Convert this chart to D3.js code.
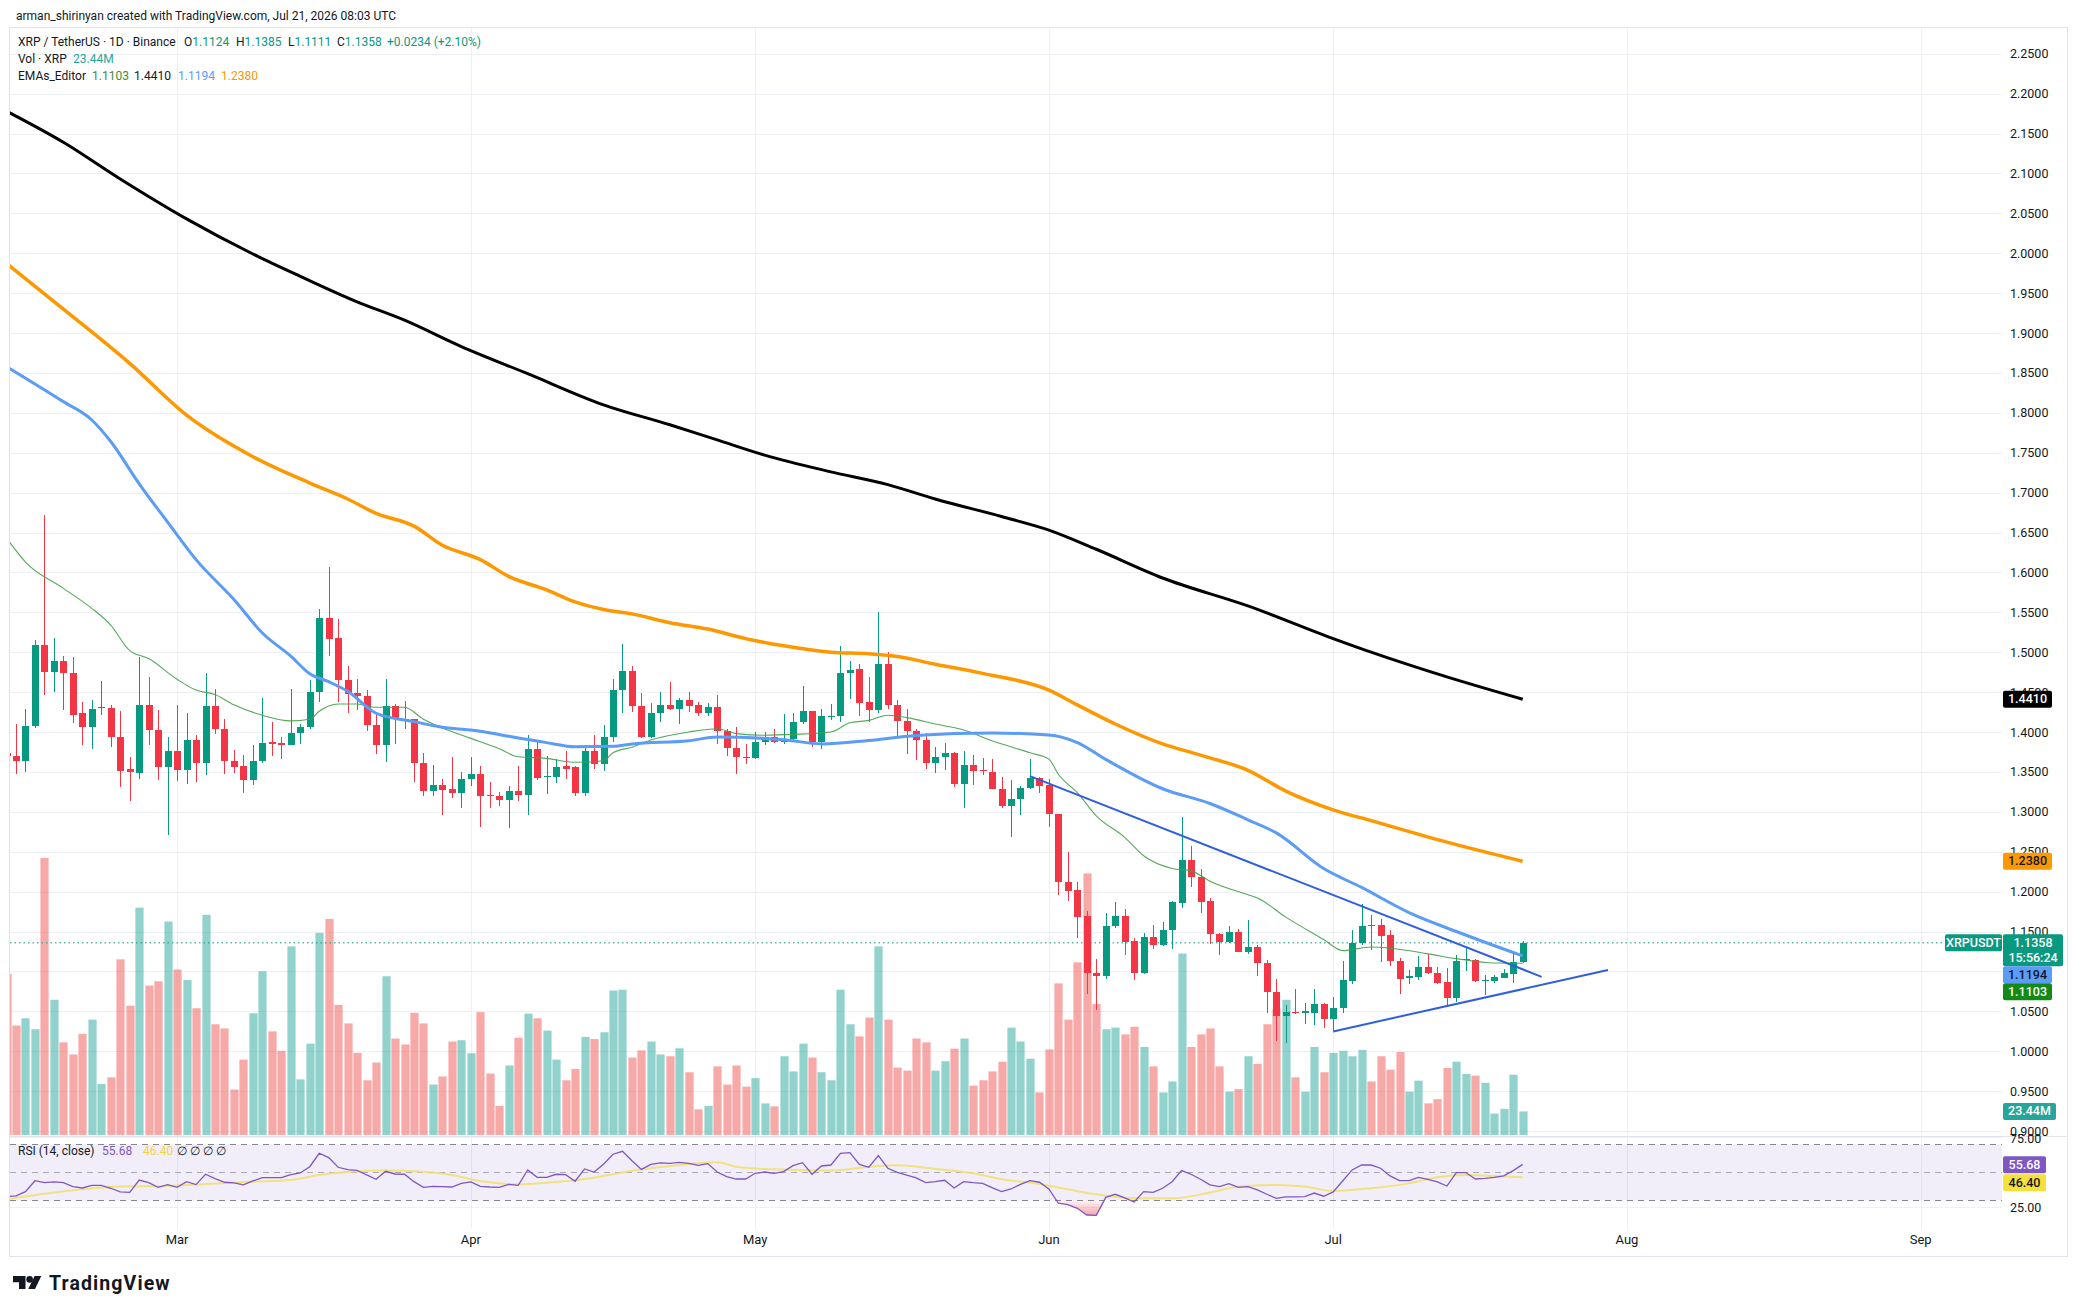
<!DOCTYPE html>
<html><head><meta charset="utf-8">
<script src="https://cdn.jsdelivr.net/npm/d3@7"></script>
<style>
html,body{margin:0;padding:0;background:#fff;}
svg{display:block;font-family:Roboto,"Noto Sans",sans-serif;}
</style></head><body>
<svg id="chart" width="2078" height="1314"></svg>
<script>
// ---------------- DATA (day index 0 = 2026-02-11) ----------------
const opens = [1.3740,1.3700,1.3642,1.4069,1.5095,1.4747,1.4884,1.4737,1.4232,1.4063,1.4300,1.4305,1.3937,1.3537,1.3490,1.4342,1.4026,1.3558,1.3763,1.3526,1.3905,1.3611,1.4321,1.4042,1.3642,1.3569,1.3400,1.3632,1.3869,1.3858,1.3842,1.3990,1.4063,1.4495,1.5432,1.5179,1.4653,1.4484,1.4453,1.4090,1.3842,1.4332,1.4169,1.4158,1.3616,1.3258,1.3337,1.3284,1.3237,1.3411,1.3479,1.3211,1.3195,1.3147,1.3263,1.3211,1.3790,1.3432,1.3437,1.3569,1.3558,1.3237,1.3758,1.3605,1.3932,1.4526,1.4769,1.4326,1.3937,1.4237,1.4337,1.4284,1.4395,1.4337,1.4237,1.4316,1.4011,1.3800,1.3690,1.3674,1.3869,1.3937,1.3874,1.3916,1.4126,1.4258,1.3869,1.4190,1.4200,1.4737,1.4784,1.4379,1.4274,1.4858,1.4337,1.4137,1.4016,1.3905,1.3611,1.3684,1.3737,1.3347,1.3590,1.3526,1.3505,1.3290,1.3074,1.3163,1.3300,1.3421,1.3332,1.2974,1.2126,1.2016,1.1695,1.0974,1.0937,1.1563,1.1695,1.1379,1.0974,1.1432,1.1326,1.1516,1.1863,1.2395,1.2179,1.1879,1.1463,1.1369,1.1500,1.1242,1.1305,1.1105,1.0747,1.0437,1.0495,1.0484,1.0484,1.0595,1.0405,1.0537,1.0879,1.1353,1.1579,1.1579,1.1458,1.1126,1.0916,1.0926,1.1053,1.0974,1.0869,1.0669,1.1137,1.1147,1.0879,1.0874,1.0916,1.0969,1.1124];
const highs = [1.3900,1.4095,1.4290,1.5147,1.6721,1.5184,1.4958,1.4937,1.4379,1.4395,1.4642,1.4337,1.4263,1.3684,1.4937,1.4695,1.4274,1.3937,1.4337,1.4232,1.3958,1.4737,1.4537,1.4158,1.3779,1.3716,1.3842,1.4432,1.4126,1.3937,1.4537,1.4095,1.4653,1.5537,1.6069,1.5421,1.4821,1.4663,1.4526,1.4253,1.4669,1.4347,1.4390,1.4169,1.3737,1.3590,1.3411,1.3684,1.3505,1.3690,1.3579,1.3369,1.3242,1.3326,1.3579,1.3963,1.3895,1.3695,1.3663,1.3758,1.3579,1.3832,1.3958,1.4084,1.4669,1.5105,1.4832,1.4484,1.4369,1.4505,1.4632,1.4426,1.4505,1.4379,1.4369,1.4463,1.4032,1.4063,1.3853,1.4000,1.4000,1.4037,1.4221,1.4232,1.4579,1.4269,1.4284,1.4353,1.5079,1.4890,1.4858,1.4695,1.5500,1.5000,1.4405,1.4290,1.4032,1.3984,1.3816,1.3863,1.3747,1.3758,1.3711,1.3669,1.3658,1.3437,1.3395,1.3326,1.3663,1.3442,1.3416,1.2974,1.2490,1.2116,1.1763,1.1158,1.1737,1.1869,1.1779,1.1421,1.1484,1.1579,1.1621,1.1884,1.2937,1.2569,1.2284,1.1926,1.1484,1.1568,1.1537,1.1642,1.1326,1.1142,1.0905,1.0579,1.0779,1.0605,1.0779,1.0605,1.0674,1.1132,1.1516,1.1842,1.1705,1.1653,1.1516,1.1169,1.1021,1.1190,1.1221,1.1053,1.1042,1.1211,1.1305,1.1158,1.0958,1.0958,1.1026,1.1237,1.1385];
const lows = [1.3560,1.3474,1.3500,1.4053,1.4463,1.4500,1.4274,1.4116,1.3832,1.3790,1.4211,1.3811,1.3305,1.3132,1.3411,1.3842,1.3400,1.2711,1.3390,1.3347,1.3379,1.3463,1.3979,1.3474,1.3484,1.3232,1.3337,1.3611,1.3705,1.3663,1.3832,1.3853,1.4042,1.4379,1.4958,1.4379,1.4232,1.4274,1.4011,1.3726,1.3626,1.3847,1.4042,1.3369,1.3200,1.3200,1.2958,1.3169,1.3042,1.3326,1.2805,1.3042,1.3074,1.2800,1.3137,1.2963,1.3400,1.3226,1.3358,1.3411,1.3200,1.3200,1.3537,1.3511,1.3874,1.4232,1.4253,1.3926,1.3926,1.4126,1.4274,1.4100,1.4247,1.4200,1.4195,1.3853,1.3695,1.3474,1.3600,1.3663,1.3832,1.3863,1.3853,1.3905,1.4095,1.3811,1.3790,1.4147,1.4126,1.4411,1.4205,1.4126,1.4232,1.4284,1.3947,1.3726,1.3653,1.3537,1.3490,1.3526,1.3316,1.3042,1.3337,1.3463,1.3290,1.3053,1.2684,1.2963,1.3290,1.3232,1.2811,1.1958,1.1879,1.1421,1.0711,1.0516,1.0905,1.1547,1.1200,1.0895,1.0969,1.1284,1.1316,1.1284,1.1790,1.2063,1.1726,1.1342,1.1200,1.1358,1.1242,1.1221,1.0937,1.0474,1.0132,1.0105,1.0463,1.0342,1.0332,1.0290,1.0253,1.0474,1.0842,1.1337,1.1274,1.1116,1.1063,1.0716,1.0842,1.0895,1.0969,1.0842,1.0553,1.0616,1.1000,1.0863,1.0705,1.0853,1.0916,1.0853,1.1111];
const closes = [1.3700,1.3642,1.4079,1.5095,1.4747,1.4884,1.4737,1.4211,1.4063,1.4290,1.4311,1.3937,1.3516,1.3495,1.4342,1.4026,1.3558,1.3763,1.3526,1.3905,1.3611,1.4321,1.4042,1.3642,1.3558,1.3400,1.3632,1.3863,1.3853,1.3847,1.3990,1.4063,1.4495,1.5432,1.5169,1.4647,1.4474,1.4453,1.4090,1.3842,1.4332,1.4158,1.4147,1.3611,1.3258,1.3337,1.3274,1.3237,1.3416,1.3479,1.3200,1.3195,1.3147,1.3263,1.3211,1.3790,1.3421,1.3447,1.3563,1.3542,1.3237,1.3758,1.3605,1.3932,1.4526,1.4769,1.4326,1.3937,1.4237,1.4337,1.4284,1.4395,1.4332,1.4237,1.4316,1.4011,1.3800,1.3684,1.3674,1.3869,1.3932,1.3874,1.3916,1.4126,1.4258,1.3869,1.4195,1.4205,1.4742,1.4779,1.4369,1.4274,1.4858,1.4337,1.4137,1.4011,1.3905,1.3611,1.3684,1.3737,1.3347,1.3590,1.3516,1.3511,1.3290,1.3074,1.3163,1.3300,1.3421,1.3326,1.2974,1.2116,1.2011,1.1684,1.0974,1.0937,1.1569,1.1695,1.1369,1.0974,1.1432,1.1326,1.1516,1.1869,1.2395,1.2179,1.1874,1.1463,1.1369,1.1500,1.1242,1.1305,1.1105,1.0747,1.0437,1.0495,1.0474,1.0500,1.0590,1.0405,1.0537,1.0895,1.1358,1.1569,1.1569,1.1447,1.1126,1.0905,1.0937,1.1053,1.0974,1.0858,1.0669,1.1132,1.1153,1.0874,1.0895,1.0926,1.0979,1.1124,1.1358];
const volumes = [160.3,108.8,116.0,105.1,275.4,134.4,92.1,80.0,100.5,114.7,50.7,57.3,174.6,128.5,226.0,148.6,152.8,212.2,164.5,154.0,126.0,218.9,110.1,105.9,45.2,74.9,121.0,162.8,103.0,83.7,187.5,55.3,90.8,200.9,214.7,129.3,110.9,81.6,54.4,72.0,157.8,95.9,90.0,121.4,110.9,50.2,58.2,92.9,94.2,81.2,122.2,61.1,28.9,69.1,96.7,120.6,116.0,103.8,74.9,54.4,65.7,97.5,95.4,102.1,143.6,144.4,77.0,84.1,92.9,80.0,78.3,86.2,62.4,25.5,28.9,68.2,50.2,69.1,48.1,56.5,31.4,28.5,78.3,63.2,90.8,77.0,62.4,54.4,144.4,110.1,98.0,116.8,187.5,114.7,67.0,64.0,95.9,92.1,64.0,73.3,85.8,95.9,49.0,54.4,63.2,72.8,106.7,92.9,75.8,42.3,85.0,150.7,114.7,171.6,260.0,130.2,105.1,106.7,100.0,107.6,87.5,68.2,42.3,53.2,180.4,87.5,100.0,105.9,68.2,43.1,45.6,78.3,70.7,110.1,125.6,134.4,57.3,43.1,87.5,62.4,81.6,83.7,78.3,84.6,53.2,78.3,64.9,82.5,43.1,54.0,31.4,35.6,66.6,72.8,60.7,59.0,51.9,21.3,26.0,59.9,23.44];
const rsiValues = [32.6,33.1,36.2,44,42.6,43.1,42.6,39.8,38.8,40.7,40.7,38.6,36,35.7,44.5,42.6,39.3,41.2,39.3,43.3,41.2,48.6,45.5,42.9,42.4,41,43.8,46.2,46.2,46.2,48.3,49.5,54,63.6,60.5,53.6,51.9,51.4,48.1,45,50.7,48.8,48.6,43.3,39.3,40,39.8,39.5,42.1,43.1,40,39.5,39.3,41.4,40.7,51.7,46.4,46.4,48.6,48.3,43.6,52.4,50.2,55.7,62.9,65,58.3,52.1,55.7,56.7,56.4,57.1,56.4,55,56.2,50.2,46.9,45.2,45.2,49.3,50.2,49.3,50.5,54.8,56.9,48.6,54.5,55.2,63.6,64,55.7,53.6,61.9,52.9,50,47.9,46,42.6,43.3,44.3,38.8,43.3,42.6,42.1,39,36.2,38.1,41.4,44,42.9,38.1,27.9,26.9,24.3,19.5,19.3,32.1,34.3,31.7,28.8,36.2,35.7,38.6,43.3,51.2,48.6,45,41,39.8,41.9,39.3,39.8,37.4,34.3,31.4,32.4,32.4,32.6,35.2,32.9,36,43.8,51.7,55.2,55.2,52.9,47.4,44,44,46.4,45,43.1,40.2,49.8,49.8,45.2,45.7,46.4,47.4,51.2,55.68];
const rsiMaPoints = [[0,30.7],[8,37.9],[12,39.8],[17,40.2],[21,41.7],[26,43.3],[30,44.5],[33,48.1],[36,50.2],[40,51.2],[43,50.7],[47,48.1],[50,43.8],[54,41.4],[57,42.6],[60,44.3],[63,47.4],[67,52.1],[70,54.5],[73,56.4],[75,57.1],[77,54],[81,52.1],[87,51.2],[91,54],[94,55],[98,52.4],[102,49.3],[105,45],[109,41.7],[112,37.9],[115,34.3],[119,31.4],[123,31.4],[127,35.5],[130,39.8],[134,41],[137,39.8],[140,36.7],[144,38.6],[148,42.1],[151,46.4],[154,48.1],[157,47.4],[160,46.4]];
const ema200Points = [[0,2.178],[6,2.139],[12,2.093],[19,2.043],[26,1.999],[31,1.971],[37,1.939],[42,1.916],[48,1.883],[55,1.849],[63,1.810],[70,1.785],[75,1.766],[80,1.747],[87,1.726],[93,1.710],[98,1.692],[105,1.670],[110,1.653],[115,1.629],[122,1.593],[131,1.558],[140,1.517],[144,1.500],[152,1.469],[160,1.441]];
const ema100Points = [[0,1.987],[6,1.930],[13,1.862],[19,1.797],[26,1.745],[32,1.712],[36,1.692],[39,1.674],[43,1.658],[46,1.634],[50,1.616],[53,1.595],[57,1.578],[60,1.563],[63,1.5535],[66,1.548],[70,1.537],[74,1.529],[78,1.517],[82,1.508],[87,1.500],[91,1.498],[94,1.4945],[98,1.485],[103,1.4735],[110,1.4525],[113,1.434],[117,1.410],[122,1.385],[126,1.371],[131,1.352],[135,1.326],[140,1.3025],[144,1.289],[152,1.262],[160,1.238]];
const ema50Points = [[0,1.858],[6,1.814],[9,1.791],[11,1.764],[14,1.711],[17,1.663],[20,1.616],[24,1.566],[27,1.524],[30,1.495],[32,1.473],[34,1.463],[36,1.451],[39,1.4235],[43,1.413],[46,1.406],[50,1.401],[53,1.3946],[57,1.3867],[60,1.3815],[64,1.382],[66,1.385],[72,1.389],[75,1.3936],[82,1.3904],[86,1.3851],[91,1.3894],[96,1.3957],[104,1.3988],[110,1.3962],[113,1.3867],[116,1.3657],[122,1.3289],[127,1.3104],[131,1.290],[134,1.2736],[139,1.2289],[143,1.2052],[148,1.1737],[153,1.150],[160,1.1194]];
const ema20Points = [[0,1.643],[2,1.613],[6,1.580],[9,1.555],[11,1.534],[13,1.502],[15,1.492],[18,1.466],[20,1.4525],[22,1.447],[24,1.434],[27,1.421],[30,1.414],[32,1.416],[33,1.426],[35,1.435],[37,1.435],[39,1.431],[42,1.431],[44,1.416],[46,1.405],[49,1.392],[52,1.379],[54,1.369],[57,1.367],[60,1.362],[63,1.364],[64,1.374],[66,1.381],[68,1.390],[72,1.400],[75,1.404],[77,1.398],[80,1.396],[83,1.397],[87,1.400],[89,1.4115],[91,1.4146],[93,1.421],[95,1.418],[98,1.410],[101,1.4025],[104,1.389],[108,1.374],[110,1.366],[111,1.347],[113,1.324],[115,1.295],[118,1.268],[120,1.245],[123,1.229],[125,1.226],[127,1.213],[131,1.196],[132,1.192],[135,1.168],[139,1.140],[141,1.126],[144,1.1305],[146,1.129],[150,1.122],[153,1.116],[157,1.1105],[160,1.1103]];
const trendUpper = [[108,1.3447],[162,1.0932]];
const trendLower = [[140,1.0248],[169,1.1017]];
const priceTicks = [2.25,2.20,2.15,2.10,2.05,2.00,1.95,1.90,1.85,1.80,1.75,1.70,1.65,1.60,1.55,1.50,1.45,1.40,1.35,1.30,1.25,1.20,1.15,1.10,1.05,1.00,0.95,0.90];
const rsiTicks = [75, 25];
const monthLabels = ["Mar","Apr","May","Jun","Jul","Aug","Sep"];
const monthStarts = [[2026,2,1],[2026,3,1],[2026,4,1],[2026,5,1],[2026,6,1],[2026,7,1],[2026,8,1]];
const lastPrice = 1.1358, lastVolume = 23.44, lastRsi = 55.68, lastRsiMa = 46.40;
const ema20Last = 1.1103, ema200Last = 1.4410, ema50Last = 1.1194, ema100Last = 1.2380;

// ---------------- LAYOUT ----------------
const W = 2078, H = 1314;
const L = 10, R = 2002, PT = 28, PB = 1136, RT = 1137, RB = 1229;
const DAY0 = Date.UTC(2026,1,11);
const dayDate = k => new Date(DAY0 + k*86400000);

const x = d3.scaleUtc().domain([new Date(Date.UTC(2026,1,12)), new Date(Date.UTC(2026,8,1))]).range([16, 1920.7]);
const y = d3.scaleLinear().domain([1.70, 1.15]).range([492.6, 931.5]);
const yVol = d3.scaleLinear().domain([0, 100]).range([1135, 1034.4]);
const yR = d3.scaleLinear().domain([70, 30]).range([1144.3, 1200.3]);

const TXT = "#131722", GRID = "#eef0f5";
const UP = "#089981", DN = "#f23645";

const svg = d3.select("#chart");
const defs = svg.append("defs");
defs.append("clipPath").attr("id","clipP").append("rect").attr("x",L).attr("y",PT).attr("width",R-L).attr("height",PB-PT);
defs.append("clipPath").attr("id","clipR").append("rect").attr("x",L).attr("y",RT).attr("width",R-L).attr("height",RB-RT);
const grad = defs.append("linearGradient").attr("id","osGrad").attr("x1",0).attr("y1",0).attr("x2",0).attr("y2",1);
grad.append("stop").attr("offset","0%").attr("stop-color","#f23645").attr("stop-opacity",0.05);
grad.append("stop").attr("offset","100%").attr("stop-color","#f23645").attr("stop-opacity",0.45);

svg.append("rect").attr("width",W).attr("height",H).attr("fill","#fff");

// title
svg.append("text").attr("x",16).attr("y",19.5).attr("font-size",12).attr("fill",TXT)
  .text("arman_shirinyan created with TradingView.com, Jul 21, 2026 08:03 UTC");

// grid
const gGrid = svg.append("g");
priceTicks.forEach(p => {
  gGrid.append("line").attr("x1",L).attr("x2",R).attr("y1",Math.round(y(p))+0.5).attr("y2",Math.round(y(p))+0.5).attr("stroke",GRID);
});
rsiTicks.forEach(v => {
  gGrid.append("line").attr("x1",L).attr("x2",R).attr("y1",Math.round(yR(v))+0.5).attr("y2",Math.round(yR(v))+0.5).attr("stroke",GRID);
});
monthStarts.forEach(m => {
  const xx = Math.round(x(new Date(Date.UTC(...m))))+0.5;
  gGrid.append("line").attr("x1",xx).attr("x2",xx).attr("y1",PT).attr("y2",RB).attr("stroke",GRID);
});

// frame
svg.append("rect").attr("x",9.5).attr("y",27.5).attr("width",2058).attr("height",1229).attr("fill","none").attr("stroke","#e0e3eb");
svg.append("line").attr("x1",9.5).attr("x2",2067.5).attr("y1",RT-0.5).attr("y2",RT-0.5).attr("stroke","#e0e3eb");

// ---------------- PRICE PANE ----------------
const data = opens.map((o,i) => ({date: dayDate(i), o, h: highs[i], l: lows[i], c: closes[i], v: volumes[i]}));
const gP = svg.append("g").attr("clip-path","url(#clipP)");

// volume
gP.append("g").selectAll("rect").data(data).join("rect")
  .attr("x", d => Math.round(x(d.date)) - 3.6)
  .attr("width", 8.2)
  .attr("y", d => yVol(d.v))
  .attr("height", d => yVol(0) - yVol(d.v))
  .attr("fill", d => d.c >= d.o ? "#26a69a" : "#ef5350")
  .attr("fill-opacity", 0.5);

// current price dotted line
gP.append("line").attr("x1",L).attr("x2",1945).attr("y1",y(lastPrice)).attr("y2",y(lastPrice))
  .attr("stroke",UP).attr("stroke-width",1).attr("stroke-dasharray","1.5,3");

// candles
const gC = gP.append("g").attr("shape-rendering","crispEdges");
gC.selectAll("line").data(data).join("line")
  .attr("x1", d => Math.round(x(d.date)) + 0.5).attr("x2", d => Math.round(x(d.date)) + 0.5)
  .attr("y1", d => y(d.h)).attr("y2", d => y(d.l))
  .attr("stroke", d => d.c >= d.o ? UP : DN).attr("stroke-width",1.2);
gC.selectAll("rect").data(data).join("rect")
  .attr("x", d => Math.round(x(d.date)) - 3)
  .attr("width", 7)
  .attr("y", d => y(Math.max(d.o,d.c)))
  .attr("height", d => Math.max(1.2, Math.abs(y(d.o) - y(d.c))))
  .attr("fill", d => d.c >= d.o ? UP : DN);

// EMAs
const lineGen = d3.line().x(d => x(dayDate(d[0]))).y(d => y(d[1])).curve(d3.curveMonotoneX);
gP.append("path").attr("d", lineGen(ema20Points)).attr("fill","none").attr("stroke","#43a047").attr("stroke-width",1.1).attr("stroke-opacity",0.9);
gP.append("path").attr("d", lineGen(ema50Points)).attr("fill","none").attr("stroke","#5b9cf6").attr("stroke-width",3);
gP.append("path").attr("d", lineGen(ema100Points)).attr("fill","none").attr("stroke","#ff9800").attr("stroke-width",3.5);
gP.append("path").attr("d", lineGen(ema200Points)).attr("fill","none").attr("stroke","#000").attr("stroke-width",3);

// trendlines
const tl = d3.line().x(d => x(dayDate(d[0]))).y(d => y(d[1]));
gP.append("path").attr("d", tl(trendUpper)).attr("stroke","#2f5fdc").attr("stroke-width",2).attr("fill","none");
gP.append("path").attr("d", tl(trendLower)).attr("stroke","#2f5fdc").attr("stroke-width",2).attr("fill","none");

// ---------------- RSI PANE ----------------
const gR = svg.append("g").attr("clip-path","url(#clipR)");
gR.append("rect").attr("x",L).attr("width",R-L).attr("y",yR(70)).attr("height",yR(30)-yR(70)).attr("fill","#7e57c2").attr("fill-opacity",0.1);
[70,50,30].forEach(v => {
  gR.append("line").attr("x1",L).attr("x2",R).attr("y1",Math.round(yR(v))+0.5).attr("y2",Math.round(yR(v))+0.5)
    .attr("stroke","#787b86").attr("stroke-width",1).attr("stroke-dasharray","6,5").attr("stroke-opacity",v===50?0.6:0.9);
});
const rsiData = rsiValues.map((v,i) => ({date: dayDate(i), v}));
gR.append("path").datum(rsiData)
  .attr("d", d3.area().x(d => x(d.date)).y0(yR(30)).y1(d => yR(Math.min(d.v,30))))
  .attr("fill","url(#osGrad)");
gR.append("path").attr("d", d3.line().x(d => x(dayDate(d[0]))).y(d => yR(d[1])).curve(d3.curveMonotoneX)(rsiMaPoints))
  .attr("fill","none").attr("stroke","#f1de6c").attr("stroke-width",2).attr("stroke-opacity",0.85);
gR.append("path").datum(rsiData)
  .attr("d", d3.line().x(d => x(d.date)).y(d => yR(d.v)))
  .attr("fill","none").attr("stroke","#7e57c2").attr("stroke-width",1.3);

// ---------------- AXES ----------------
const fmt4 = d3.format(".4f");
const gAx = svg.append("g").attr("font-size",12.5).attr("fill",TXT);
priceTicks.forEach(p => {
  gAx.append("text").attr("x",2010).attr("y",y(p)+4.5).text(fmt4(p));
});
rsiTicks.forEach(v => {
  gAx.append("text").attr("x",2010).attr("y",yR(v)+(v===75?5.5:4.5)).text(d3.format(".2f")(v));
});
monthLabels.forEach((m,i) => {
  gAx.append("text").attr("x",x(new Date(Date.UTC(...monthStarts[i])))).attr("y",1244)
    .attr("text-anchor","middle").attr("font-size",13).text(m);
});

// ---------------- BADGES ----------------
function badge(bx, top, w, h, fill, lines, tc) {
  const g = svg.append("g");
  g.append("rect").attr("x",bx).attr("y",top).attr("width",w).attr("height",h).attr("rx",2).attr("fill",fill);
  lines.forEach((t,i) => {
    g.append("text").attr("x",bx+w/2).attr("y",top+12.5+i*15.5).attr("text-anchor","middle")
      .attr("font-size",12.5).attr("font-weight",500).attr("fill",tc).text(t);
  });
}
// price pane badges with overlap push-down
const pb = [
  {v: ema200Last, fill:"#000000", tc:"#fff", h:17, lines:[fmt4(ema200Last)], w:49},
  {v: ema100Last, fill:"#ff9800", tc:TXT, h:17, lines:[fmt4(ema100Last)], w:49},
  {v: lastPrice, fill:UP, tc:"#fff", h:32, lines:[fmt4(lastPrice),"15:56:24"], w:60},
  {v: ema50Last, fill:"#5b9cf6", tc:TXT, h:17, lines:[fmt4(ema50Last)], w:49},
  {v: ema20Last, fill:"#138a16", tc:"#fff", h:17, lines:[fmt4(ema20Last)], w:49}
];
let prevBottom = -1e9;
pb.forEach(b => {
  let top = y(b.v) - 8.5;
  if (top < prevBottom) top = prevBottom;
  badge(2003, top, b.w, b.h, b.fill, b.lines, b.tc);
  prevBottom = top + b.h;
});
// symbol label
badge(1945, y(lastPrice)-8.5, 57, 17, UP, ["XRPUSDT"], "#fff");
// volume badge
badge(2003, yVol(lastVolume)-8.5, 53, 17, "#26a69a", [d3.format(".2f")(lastVolume)+"M"], "#fff");
// RSI badges
const rTop1 = yR(lastRsi)-8;
badge(2003, rTop1, 43, 17, "#7e57c2", [d3.format(".2f")(lastRsi)], "#fff");
badge(2003, Math.max(yR(lastRsiMa)-8.5, rTop1+18), 43, 17, "#f5e13a", [d3.format(".2f")(lastRsiMa)], TXT);

// ---------------- LEGENDS ----------------
function legendLine(yy, parts) {
  const t = svg.append("text").attr("y",yy).attr("font-size",12);
  parts.forEach(p => {
    const s = t.append("tspan").attr("fill",p.c || TXT).text(p.t);
    if (p.x !== undefined) s.attr("x",p.x);
  });
}
legendLine(45.5, [
  {t:"XRP / TetherUS · 1D · Binance", x:18},
  {t:"O", x:184}, {t:fmt4(opens[160]), c:UP},
  {t:"H", x:236}, {t:fmt4(highs[160]), c:UP},
  {t:"L", x:288}, {t:fmt4(lows[160]), c:UP},
  {t:"C", x:337}, {t:fmt4(closes[160]), c:UP},
  {t:"+0.0234 (+2.10%)", x:387, c:UP}
]);
legendLine(62.5, [
  {t:"Vol · XRP", x:18},
  {t:d3.format(".2f")(lastVolume)+"M", x:73, c:"#26a69a"}
]);
legendLine(79.5, [
  {t:"EMAs_Editor", x:18},
  {t:fmt4(ema20Last), x:92, c:"#388e3c"},
  {t:fmt4(ema200Last), x:134, c:TXT},
  {t:fmt4(ema50Last), x:178, c:"#5b9cf6"},
  {t:fmt4(ema100Last), x:221, c:"#ff9800"}
]);
legendLine(1154.5, [
  {t:"RSI (14, close)", x:18},
  {t:d3.format(".2f")(lastRsi), x:102, c:"#7e57c2"},
  {t:d3.format(".2f")(lastRsiMa), x:143, c:"#f2d53c"},
  {t:"∅ ∅ ∅ ∅", x:177, c:TXT}
]);

// ---------------- LOGO ----------------
const logo = svg.append("g").attr("fill",TXT);
logo.append("path").attr("d","M13 1276H25.5V1289H19V1282.2H13Z");
logo.append("circle").attr("cx",29.6).attr("cy",1279.4).attr("r",3.3);
logo.append("path").attr("d","M34.6 1276H41.3L35 1289H28.3Z");
svg.append("text").attr("x",49).attr("y",1289.5).attr("font-size",19.5).attr("font-weight",700).attr("fill",TXT)
  .attr("letter-spacing","1.1").text("TradingView");
</script>
</body></html>
